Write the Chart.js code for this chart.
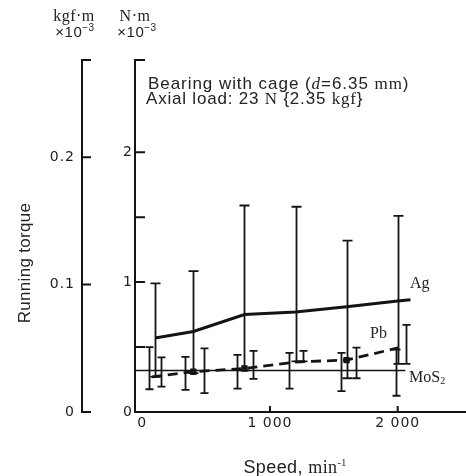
<!DOCTYPE html>
<html><head><meta charset="utf-8">
<script src="https://cdn.jsdelivr.net/npm/chart.js@4.4.1/dist/chart.umd.min.js"></script>
<style>html,body{margin:0;padding:0;background:#fff}#c{display:block}</style>
</head><body>
<canvas id="c" width="466" height="476"></canvas>
<script>
// ---- data (torque in N·m ×10^-3, speed in min^-1) ----
const agSpeed   = [100, 400, 800, 1200, 1600, 2000, 2100];
const agTorque  = [0.57, 0.62, 0.75, 0.77, 0.81, 0.855, 0.865];
const agBarSpeed = [100, 400, 800, 1200, 1600, 2000];
const agHigh    = [0.99, 1.085, 1.59, 1.58, 1.32, 1.51];
const agLow     = [0.27, 0.30, 0.32, 0.39, 0.26, 0.37];

const pbSpeed   = [75, 400, 800, 1200, 1600, 2010];
const pbTorque  = [0.27, 0.31, 0.335, 0.385, 0.40, 0.495];
const pbBarSpeed = [150, 480, 870, 1260, 1670, 2065];
const pbHigh    = [0.42, 0.49, 0.47, 0.47, 0.495, 0.67];
const pbLow     = [0.195, 0.145, 0.255, 0.39, 0.26, 0.37];

const mos2Speed  = [-57, 2060];
const mos2Torque = [0.32, 0.32];
const mos2BarSpeed = [50, 335, 745, 1150, 1555, 1985];
const mos2High  = [0.50, 0.425, 0.44, 0.455, 0.455, 0.48];
const mos2Low   = [0.175, 0.17, 0.18, 0.18, 0.16, 0.125];

const xTickValues = [0, 1000, 2000];
const xTickLabels = ['0', '1 000', '2 000'];
const nmTickValues = [0, 1, 2];
const nmTickLabels = ['0', '1', '2'];
const nmTickMarks = [0, 0.5, 1, 1.5, 2];
const kgfTickValues = [0, 0.1, 0.2];
const kgfTickLabels = ['0', '0.1', '0.2'];

const NM_MAX = 2.71;
const KGF_PER_NM = 1 / 9.80665;

const INK = '#141414';
const TXT = '#222';
const SANS = '"Liberation Sans", Arial, sans-serif';
const SERIF = '"Liberation Serif", "Times New Roman", serif';

function pts(xs, ys) { return xs.map((x, i) => ({x: x, y: ys[i]})); }

function runs(ctx, x, y, parts, align, spacing) {
  ctx.letterSpacing = (spacing || 0) + 'px';
  let total = 0;
  parts.forEach(p => { ctx.font = p[1]; total += ctx.measureText(p[0]).width; });
  let cx = align === 'center' ? x - total / 2 : x;
  ctx.textAlign = 'left';
  ctx.textBaseline = 'alphabetic';
  parts.forEach(p => {
    ctx.font = p[1];
    ctx.fillText(p[0], cx, y + (p[2] || 0));
    cx += ctx.measureText(p[0]).width;
  });
  ctx.letterSpacing = '0px';
}

const spacingPlugin = {
  id: 'spacing',
  beforeDraw(chart) { chart.ctx.letterSpacing = '1px'; }
};

const overlay = {
  id: 'overlay',
  afterDatasetsDraw(chart) {
    const ctx = chart.ctx;
    ctx.letterSpacing = '0px';
    const xs = chart.scales.x, ys = chart.scales.y, ks = chart.scales.yk;
    ctx.save();
    ctx.strokeStyle = INK;
    function bars(sp, lo, hi, cap, lw) {
      ctx.lineWidth = lw;
      sp.forEach((s, i) => {
        const px = Math.round(xs.getPixelForValue(s)) + 0.5;
        const y1 = ys.getPixelForValue(lo[i]);
        const y2 = ys.getPixelForValue(hi[i]);
        ctx.beginPath();
        ctx.moveTo(px, y1); ctx.lineTo(px, y2);
        ctx.moveTo(px - cap / 2, y1); ctx.lineTo(px + cap / 2, y1);
        ctx.moveTo(px - cap / 2, y2); ctx.lineTo(px + cap / 2, y2);
        ctx.stroke();
      });
    }
    bars(agBarSpeed, agLow, agHigh, 10, 1.8);
    bars(pbBarSpeed, pbLow, pbHigh, 8, 1.8);
    bars(mos2BarSpeed, mos2Low, mos2High, 8, 1.8);

    // inward tick marks
    ctx.lineWidth = 2;
    ctx.beginPath();
    nmTickMarks.concat([NM_MAX]).forEach(v => {
      const py = ys.getPixelForValue(v);
      ctx.moveTo(ys.right, py); ctx.lineTo(ys.right + 10, py);
    });
    kgfTickValues.concat([NM_MAX * KGF_PER_NM]).forEach(v => {
      const py = ks.getPixelForValue(v);
      ctx.moveTo(ks.right, py); ctx.lineTo(ks.right + 9, py);
    });
    [1000, 2000].forEach(v => {
      const px = xs.getPixelForValue(v);
      ctx.moveTo(px, xs.top); ctx.lineTo(px, xs.top - 6);
    });
    ctx.stroke();

    // texts
    ctx.fillStyle = TXT;
    runs(ctx, 148, 89, [
      ['Bearing with cage (', '17px ' + SANS],
      ['d', 'italic 17px ' + SERIF],
      ['=6.35 ', '17px ' + SANS],
      ['mm', '17px ' + SERIF],
      [')', '17px ' + SANS]
    ], 'left', 0.95);
    runs(ctx, 146, 104, [
      ['Axial load: 23 ', '17px ' + SANS],
      ['N', '17px ' + SERIF],
      [' {2.35 ', '17px ' + SANS],
      ['kgf', '17px ' + SERIF],
      ['}', '17px ' + SANS]
    ], 'left', 0.8);
    runs(ctx, 410, 288, [['Ag', '16px ' + SERIF]], 'left');
    runs(ctx, 370, 338, [['Pb', '16px ' + SERIF]], 'left');
    runs(ctx, 409, 382, [['MoS', '16px ' + SERIF], ['2', '10px ' + SERIF, 2]], 'left');

    runs(ctx, 74, 21, [['kgf·m', '16px ' + SERIF]], 'center', 0.5);
    runs(ctx, 75, 37, [['×10', '15px ' + SANS], ['−3', '10px ' + SANS, -6]], 'center', 0.5);
    runs(ctx, 135, 21, [['N·m', '16px ' + SERIF]], 'center', 0.5);
    runs(ctx, 137, 37, [['×10', '15px ' + SANS], ['−3', '10px ' + SANS, -6]], 'center', 0.5);

    runs(ctx, 295, 473, [['Speed, ', '18px ' + SANS], ['min', '18px ' + SERIF], ['-1', '10px ' + SERIF, -7]], 'center', 0.4);

    ctx.save();
    ctx.translate(25, 263);
    ctx.rotate(-Math.PI / 2);
    ctx.font = '17px ' + SANS;
    ctx.letterSpacing = '0.3px';
    ctx.textAlign = 'center';
    ctx.textBaseline = 'middle';
    ctx.fillText('Running torque', 0, 0);
    ctx.restore();

    ctx.restore();
  }
};

const tickFont = {family: '"DejaVu Sans", sans-serif', size: 14};

new Chart(document.getElementById('c'), {
  type: 'line',
  data: {
    datasets: [
      {label: 'Ag', data: pts(agSpeed, agTorque), xAxisID: 'x', yAxisID: 'y',
       borderColor: INK, borderWidth: 3, pointRadius: 0, tension: 0, fill: false},
      {label: 'Pb', data: pts(pbSpeed, pbTorque), xAxisID: 'x', yAxisID: 'y',
       borderColor: INK, borderWidth: 2.8, borderDash: [10, 6],
       pointRadius: [0, 2.5, 2.5, 0, 2.5, 0], pointStyle: 'rect',
       pointBackgroundColor: INK, pointBorderColor: INK, tension: 0, fill: false},
      {label: 'MoS2', data: pts(mos2Speed, mos2Torque), xAxisID: 'x', yAxisID: 'y',
       borderColor: INK, borderWidth: 1.6, pointRadius: 0, tension: 0, fill: false}
    ]
  },
  options: {
    responsive: false,
    animation: false,
    devicePixelRatio: 1,
    layout: {padding: {top: 60, left: 0, right: 0, bottom: 0}},
    plugins: {legend: {display: false}, tooltip: {enabled: false}},
    scales: {
      x: {
        type: 'linear', position: 'bottom', min: -57, max: 2535,
        grid: {display: false, drawTicks: false},
        border: {display: true, color: INK, width: 2},
        afterBuildTicks: s => { s.ticks = xTickValues.map(v => ({value: v})); },
        ticks: {font: tickFont, color: TXT, padding: 3,
                callback: (v, i) => xTickLabels[i]},
        afterFit: s => { s.height = 64; }
      },
      y: {
        type: 'linear', position: 'left', weight: 0,
        min: 0, max: NM_MAX,
        grid: {display: false, drawTicks: false},
        border: {display: true, color: INK, width: 2},
        afterBuildTicks: s => { s.ticks = nmTickValues.map(v => ({value: v})); },
        ticks: {font: tickFont, color: TXT, padding: 2,
                callback: (v, i) => nmTickLabels[i]},
        afterFit: s => { s.width = 53; }
      },
      yk: {
        type: 'linear', position: 'left', weight: 1,
        min: 0, max: NM_MAX * KGF_PER_NM,
        grid: {display: false, drawTicks: false},
        border: {display: true, color: INK, width: 2},
        afterBuildTicks: s => { s.ticks = kgfTickValues.map(v => ({value: v})); },
        ticks: {font: tickFont, color: TXT, padding: 7,
                callback: (v, i) => kgfTickLabels[i]},
        afterFit: s => { s.width = 82; }
      }
    }
  },
  plugins: [spacingPlugin, overlay]
});
</script>
</body></html>
